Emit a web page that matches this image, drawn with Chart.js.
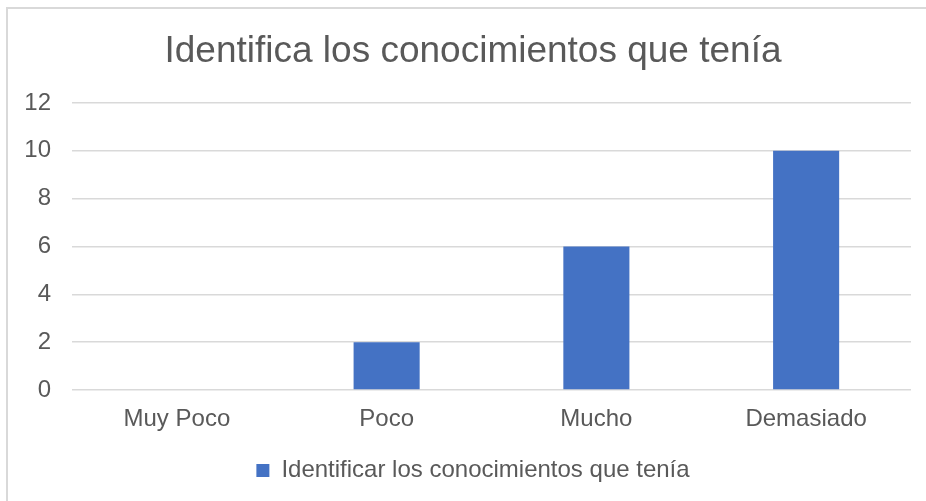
<!DOCTYPE html>
<html>
<head>
<meta charset="utf-8">
<script src="https://cdn.jsdelivr.net/npm/chart.js@4/dist/chart.umd.min.js"></script>
<style>
  html, body { margin: 0; padding: 0; background: #fff; overflow: hidden; }
  #frame { position: absolute; left: 6px; top: 7px; width: 1000px; height: 1000px; border: 2px solid #d9d9d9; }
  #wrap { position: absolute; left: 0; top: 0; width: 946px; height: 501px; }
</style>
</head>
<body>
<div id="frame"></div>
<div id="wrap"><canvas id="chart"></canvas></div>
<script>
const categories = ['Muy Poco', 'Poco', 'Mucho', 'Demasiado'];
const seriesLabel = 'Identificar los conocimientos que tenía';
const seriesValues = [0, 2, 6, 10];
const yTicks = [0, 2, 4, 6, 8, 10, 12];
const chartTitle = 'Identifica los conocimientos que tenía';

const textColor = '#595959';
const gridColor = '#d9d9d9';
const font = 'Liberation Sans, Arial, sans-serif';

Chart.defaults.font.family = font;
Chart.defaults.color = textColor;

var ctx = document.getElementById('chart').getContext('2d');
var chart = new Chart(ctx, {
    type: 'bar',
    data: {
        labels: categories,
        datasets: [{
            label: seriesLabel,
            data: seriesValues,
            backgroundColor: '#4472c4',
            borderWidth: 0,
            categoryPercentage: 1,
            barPercentage: 0.315
        }]
    },
    options: {
        responsive: true,
        maintainAspectRatio: false,
        animation: false,
        layout: {
            padding: { left: 10, right: 10, top: 8, bottom: 8.5 }
        },
        scales: {
            x: {
                grid: { display: false },
                border: { display: false },
                ticks: { font: { size: 24 }, color: textColor, padding: 7 },
                afterFit: function (scale) { scale.height = 58.5; }
            },
            y: {
                min: yTicks[0],
                max: yTicks[yTicks.length - 1],
                grid: { color: gridColor, lineWidth: 1.5, drawTicks: false },
                border: { display: false },
                ticks: { stepSize: 2, font: { size: 24 }, color: textColor, padding: 21 },
                afterFit: function (scale) { scale.width = 62; }
            },
            // empty right-hand spacer so the plot ends where the reference does
            yRight: {
                position: 'right',
                min: yTicks[0],
                max: yTicks[yTicks.length - 1],
                grid: { display: false, drawTicks: false },
                border: { display: false },
                ticks: { display: false },
                afterFit: function (scale) { scale.width = 25; }
            }
        },
        plugins: {
            title: {
                display: true,
                text: chartTitle,
                color: textColor,
                font: { size: 37, weight: 'normal' },
                padding: { top: 21.8, bottom: 28.8 }
            },
            legend: {
                position: 'bottom',
                labels: {
                    boxWidth: 13,
                    boxHeight: 13,
                    color: textColor,
                    font: { size: 24 },
                    padding: 10
                }
            },
            tooltip: { enabled: false }
        }
    }
});
</script>
</body>
</html>
